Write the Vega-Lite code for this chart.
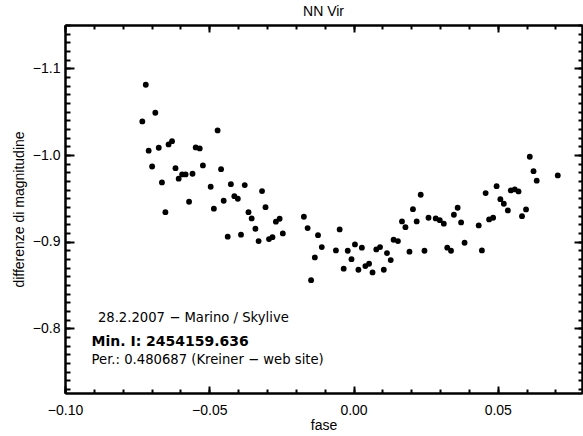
{
  "$schema": "https://vega.github.io/schema/vega-lite/v6.json",
  "width": 517,
  "height": 368,
  "autosize": {"type": "none"},
  "padding": {"left": 65, "top": 25, "right": 1, "bottom": 43},
  "background": "white",
  "title": {"text": "NN Vir", "font": "Liberation Sans", "fontSize": 14, "fontWeight": "normal", "color": "black", "anchor": "middle", "offset": 5},
  "config": {
    "view": {"stroke": null},
    "axis": {
      "grid": false,
      "labelFont": "Liberation Sans",
      "labelFontSize": 14,
      "labelColor": "black",
      "labelFlush": false,
      "labelOverlap": false,
      "titleFont": "Liberation Sans",
      "titleFontSize": 14,
      "titleFontWeight": "normal",
      "titleColor": "black",
      "domainColor": "black",
      "domainWidth": 2,
      "tickColor": "black",
      "tickWidth": 2
    }
  },
  "data": {"values": [
    {"fase": -0.0720, "dmag": -1.0811}, {"fase": -0.0732, "dmag": -1.0388}, {"fase": -0.0687, "dmag": -1.0488},
    {"fase": -0.0710, "dmag": -1.0050}, {"fase": -0.0675, "dmag": -1.0084}, {"fase": -0.0698, "dmag": -0.9868},
    {"fase": -0.0664, "dmag": -0.9684}, {"fase": -0.0652, "dmag": -0.9341}, {"fase": -0.0641, "dmag": -1.0122},
    {"fase": -0.0629, "dmag": -1.0160}, {"fase": -0.0617, "dmag": -0.9849}, {"fase": -0.0606, "dmag": -0.9727},
    {"fase": -0.0594, "dmag": -0.9776}, {"fase": -0.0582, "dmag": -0.9776}, {"fase": -0.0558, "dmag": -0.9784},
    {"fase": -0.0570, "dmag": -0.9461}, {"fase": -0.0547, "dmag": -1.0088}, {"fase": -0.0533, "dmag": -1.0076},
    {"fase": -0.0522, "dmag": -0.9880}, {"fase": -0.0471, "dmag": -1.0284}, {"fase": -0.0459, "dmag": -0.9837},
    {"fase": -0.0495, "dmag": -0.9634}, {"fase": -0.0484, "dmag": -0.9381}, {"fase": -0.0450, "dmag": -0.9473},
    {"fase": -0.0425, "dmag": -0.9664}, {"fase": -0.0413, "dmag": -0.9526}, {"fase": -0.0401, "dmag": -0.9496},
    {"fase": -0.0377, "dmag": -0.9653}, {"fase": -0.0436, "dmag": -0.9058}, {"fase": -0.0390, "dmag": -0.9081},
    {"fase": -0.0364, "dmag": -0.9341}, {"fase": -0.0353, "dmag": -0.9269}, {"fase": -0.0340, "dmag": -0.9150},
    {"fase": -0.0329, "dmag": -0.9007}, {"fase": -0.0317, "dmag": -0.9584}, {"fase": -0.0305, "dmag": -0.9399},
    {"fase": -0.0293, "dmag": -0.9030}, {"fase": -0.0281, "dmag": -0.9053}, {"fase": -0.0269, "dmag": -0.9231},
    {"fase": -0.0256, "dmag": -0.9265}, {"fase": -0.0245, "dmag": -0.9096}, {"fase": -0.0172, "dmag": -0.9288},
    {"fase": -0.0159, "dmag": -0.9157}, {"fase": -0.0123, "dmag": -0.9076}, {"fase": -0.0110, "dmag": -0.8938},
    {"fase": -0.0134, "dmag": -0.8819}, {"fase": -0.0147, "dmag": -0.8557}, {"fase": -0.0048, "dmag": -0.9142},
    {"fase": -0.0061, "dmag": -0.8900}, {"fase": -0.0034, "dmag": -0.8689}, {"fase": -0.0020, "dmag": -0.8896},
    {"fase": -0.0007, "dmag": -0.8799}, {"fase": 0.0005, "dmag": -0.8969}, {"fase": 0.0017, "dmag": -0.8677},
    {"fase": 0.0029, "dmag": -0.8931}, {"fase": 0.0041, "dmag": -0.8719}, {"fase": 0.0054, "dmag": -0.8746},
    {"fase": 0.0066, "dmag": -0.8646}, {"fase": 0.0079, "dmag": -0.8911}, {"fase": 0.0092, "dmag": -0.8938},
    {"fase": 0.0105, "dmag": -0.8677}, {"fase": 0.0116, "dmag": -0.8869}, {"fase": 0.0129, "dmag": -0.8788},
    {"fase": 0.0139, "dmag": -0.9023}, {"fase": 0.0154, "dmag": -0.9007}, {"fase": 0.0168, "dmag": -0.9234},
    {"fase": 0.0180, "dmag": -0.9168}, {"fase": 0.0194, "dmag": -0.8885}, {"fase": 0.0206, "dmag": -0.9376},
    {"fase": 0.0219, "dmag": -0.9234}, {"fase": 0.0233, "dmag": -0.9542}, {"fase": 0.0246, "dmag": -0.8896},
    {"fase": 0.0260, "dmag": -0.9277}, {"fase": 0.0285, "dmag": -0.9269}, {"fase": 0.0299, "dmag": -0.9249},
    {"fase": 0.0313, "dmag": -0.9208}, {"fase": 0.0325, "dmag": -0.8931}, {"fase": 0.0338, "dmag": -0.8896},
    {"fase": 0.0348, "dmag": -0.9311}, {"fase": 0.0361, "dmag": -0.9392}, {"fase": 0.0373, "dmag": -0.9223},
    {"fase": 0.0385, "dmag": -0.8988}, {"fase": 0.0434, "dmag": -0.9188}, {"fase": 0.0445, "dmag": -0.8900},
    {"fase": 0.0458, "dmag": -0.9561}, {"fase": 0.0470, "dmag": -0.9257}, {"fase": 0.0484, "dmag": -0.9277},
    {"fase": 0.0496, "dmag": -0.9641}, {"fase": 0.0509, "dmag": -0.9491}, {"fase": 0.0521, "dmag": -0.9438},
    {"fase": 0.0535, "dmag": -0.9361}, {"fase": 0.0545, "dmag": -0.9592}, {"fase": 0.0559, "dmag": -0.9603},
    {"fase": 0.0572, "dmag": -0.9580}, {"fase": 0.0584, "dmag": -0.9295}, {"fase": 0.0598, "dmag": -0.9373},
    {"fase": 0.0611, "dmag": -0.9980}, {"fase": 0.0624, "dmag": -0.9814}, {"fase": 0.0635, "dmag": -0.9704},
    {"fase": 0.0708, "dmag": -0.9765}
  ]},
  "layer": [
    {
      "mark": {"type": "circle", "size": 34, "color": "black", "opacity": 1},
      "encoding": {
        "x": {"field": "fase", "type": "quantitative",
          "scale": {"domain": [-0.1, 0.0792], "nice": false, "zero": false},
          "axis": {"orient": "bottom", "values": [-0.1, -0.05, 0, 0.05], "format": ".2f", "tickSize": -7, "labelPadding": 17, "title": "fase", "titlePadding": 1}},
        "y": {"field": "dmag", "type": "quantitative",
          "scale": {"domain": [-1.15, -0.7255], "reverse": true, "nice": false, "zero": false},
          "axis": {"orient": "left", "values": [-1.1, -1.0, -0.9, -0.8], "format": ".1f", "tickSize": -9, "labelPadding": 14, "title": "differenze di magnitudine", "titlePadding": 6}}
      }
    },
    {
      "mark": {"type": "circle", "size": 30, "opacity": 0},
      "encoding": {
        "x": {"field": "fase", "type": "quantitative",
          "axis": {"orient": "bottom", "values": [-0.1, -0.09, -0.08, -0.07, -0.06, -0.05, -0.04, -0.03, -0.02, -0.01, 0, 0.01, 0.02, 0.03, 0.04, 0.05, 0.06, 0.07], "tickSize": -4, "labels": false, "title": null}},
        "y": {"field": "dmag", "type": "quantitative",
          "axis": {"orient": "left", "values": [-1.15, -1.14, -1.13, -1.12, -1.11, -1.1, -1.09, -1.08, -1.07, -1.06, -1.05, -1.04, -1.03, -1.02, -1.01, -1.0, -0.99, -0.98, -0.97, -0.96, -0.95, -0.94, -0.93, -0.92, -0.91, -0.9, -0.89, -0.88, -0.87, -0.86, -0.85, -0.84, -0.83, -0.82, -0.81, -0.8, -0.79, -0.78, -0.77, -0.76, -0.75, -0.74, -0.73], "tickSize": -5, "labels": false, "title": null}}
      }
    },
    {
      "mark": {"type": "circle", "size": 30, "opacity": 0},
      "encoding": {
        "x": {"field": "fase", "type": "quantitative",
          "axis": {"orient": "top", "values": [-0.1, -0.05, 0, 0.05], "tickSize": -7, "labels": false, "title": null}},
        "y": {"field": "dmag", "type": "quantitative",
          "axis": {"orient": "right", "values": [-1.1, -1.0, -0.9, -0.8], "tickSize": -8, "labels": false, "title": null}}
      }
    },
    {
      "mark": {"type": "circle", "size": 30, "opacity": 0},
      "encoding": {
        "x": {"field": "fase", "type": "quantitative",
          "axis": {"orient": "top", "values": [-0.1, -0.09, -0.08, -0.07, -0.06, -0.05, -0.04, -0.03, -0.02, -0.01, 0, 0.01, 0.02, 0.03, 0.04, 0.05, 0.06, 0.07], "tickSize": -4, "labels": false, "title": null}},
        "y": {"field": "dmag", "type": "quantitative",
          "axis": {"orient": "right", "values": [-1.15, -1.14, -1.13, -1.12, -1.11, -1.1, -1.09, -1.08, -1.07, -1.06, -1.05, -1.04, -1.03, -1.02, -1.01, -1.0, -0.99, -0.98, -0.97, -0.96, -0.95, -0.94, -0.93, -0.92, -0.91, -0.9, -0.89, -0.88, -0.87, -0.86, -0.85, -0.84, -0.83, -0.82, -0.81, -0.8, -0.79, -0.78, -0.77, -0.76, -0.75, -0.74, -0.73], "tickSize": -4, "labels": false, "title": null}}
      }
    },
    {
      "data": {"values": [{"fase": -0.0886, "dmag": -0.8115, "label": "28.2.2007 − Marino / Skylive"}]},
      "mark": {"type": "text", "align": "left", "baseline": "middle", "font": "DejaVu Sans", "fontSize": 13.2, "color": "black"},
      "encoding": {
        "x": {"field": "fase", "type": "quantitative", "axis": null},
        "y": {"field": "dmag", "type": "quantitative", "axis": null},
        "text": {"field": "label"}
      }
    },
    {
      "data": {"values": [{"fase": -0.0908, "dmag": -0.7848, "label": "Min. I: 2454159.636"}]},
      "mark": {"type": "text", "align": "left", "baseline": "middle", "font": "DejaVu Sans", "fontSize": 14, "fontWeight": "bold", "color": "black"},
      "encoding": {
        "x": {"field": "fase", "type": "quantitative", "axis": null},
        "y": {"field": "dmag", "type": "quantitative", "axis": null},
        "text": {"field": "label"}
      }
    },
    {
      "data": {"values": [{"fase": -0.0908, "dmag": -0.7635, "label": "Per.: 0.480687 (Kreiner − web site)"}]},
      "mark": {"type": "text", "align": "left", "baseline": "middle", "font": "DejaVu Sans", "fontSize": 13.2, "color": "black"},
      "encoding": {
        "x": {"field": "fase", "type": "quantitative", "axis": null},
        "y": {"field": "dmag", "type": "quantitative", "axis": null},
        "text": {"field": "label"}
      }
    }
  ],
  "resolve": {"axis": {"x": "independent", "y": "independent"}}
}
